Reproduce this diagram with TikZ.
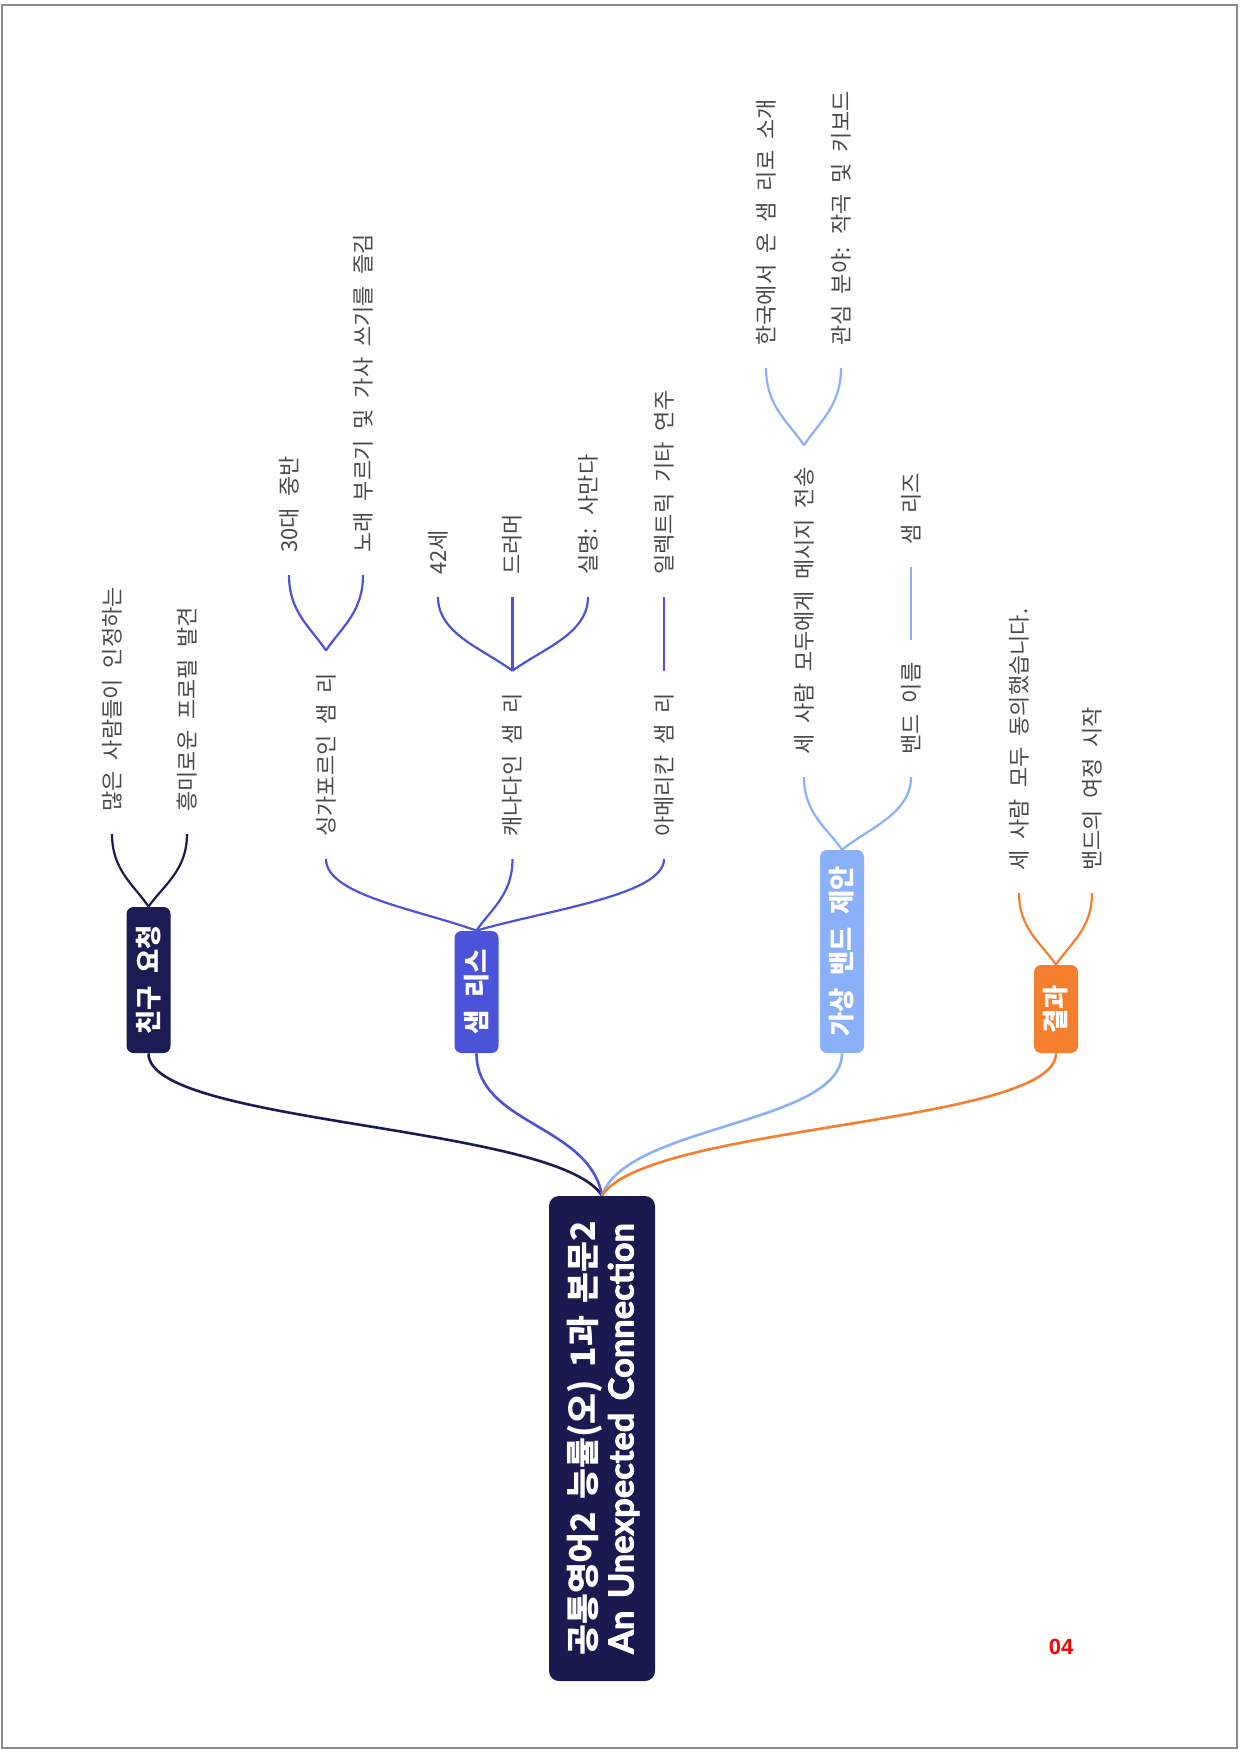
\documentclass[tikz,border=0pt]{standalone}
\usepackage{fontspec}
\usepackage{graphicx}
\setmainfont{Noto Sans CJK KR}
\newfontfamily\arialfont{Liberation Sans}
\newfontfamily\latobold[FakeBold=2.5]{Lato}
\usetikzlibrary{calc}
\definecolor{rootnavy}{HTML}{1A1A50}
\definecolor{friendnavy}{HTML}{1C1C55}
\definecolor{samblue}{HTML}{4B53D8}
\definecolor{bandblue}{HTML}{8AB1F8}
\definecolor{resorange}{HTML}{F57F2E}
\definecolor{leafgray}{HTML}{4A4A4A}
\definecolor{framegray}{HTML}{8C8C8C}
\newcommand\trunk[3]{\draw[#1] let \p1=(#2), \p2=(#3) in (\p1) .. controls +({0.1*(\x2-\x1)},{0.5*(\y2-\y1)}) and +(0pt,{-0.5*(\y2-\y1)}) .. (\p2);}
\newcommand\arm[3]{\draw[#1] let \p1=(#2), \p2=(#3) in (\p1) .. controls +({0.4*(\x2-\x1)},{0.3*(\y2-\y1)}) and +(0pt,{-0.5*(\y2-\y1)}) .. (\p2);}
\newcommand\vt[1]{\rotatebox{90}{#1}}
\newcommand\catfont{\fontsize{13.2}{15}\selectfont\bfseries\spaceskip 6.3pt\relax}
\newcommand\leaffont{\fontsize{11}{13}\selectfont\spaceskip 5.5pt\relax}
\newcommand\rootfont{\fontsize{16.8}{19}\selectfont\bfseries\spaceskip 6.2pt\relax}
\tikzset{
  rootbox/.style={fill=rootnavy, rounded corners=5pt, minimum width=53pt, minimum height=242.5pt, inner sep=0pt, text=white},
  catbox/.style={rounded corners=3.5pt, minimum width=22pt, inner sep=0pt, text=white, font=\catfont},
  leaf/.style={anchor=south, inner xsep=0pt, inner ysep=11pt, text=leafgray, font=\leaffont},
  trunkline/.style={line width=1.3pt},
  armline/.style={line width=1.1pt},
}
\begin{document}
\begin{tikzpicture}[x=0.5pt,y=-0.5pt]
\useasboundingbox (0,0) rectangle (1240,1754);
\fill[white] (0,0) rectangle (1240,1754);
\draw[framegray, line width=1.2pt] (2,5) rectangle (1237,1748);

% root
\node[rootbox] (root) at (602,1438.5) {\hspace{4pt}\vt{\rootfont\begin{tabular}{@{}c@{}}공통영어2 능률(오) 1과 본문2\\ {\latobold\fontsize{17.2}{19}\selectfont An Unexpected Connection}\end{tabular}}};

% categories
\node[catbox, fill=friendnavy, minimum height=73pt] (friend) at (148.5,980) {\vt{친구 요청}};
\node[catbox, fill=samblue, minimum height=61pt] (sam) at (476.5,992) {\vt{샘 리스}};
\node[catbox, fill=bandblue, minimum height=101.5pt] (band) at (842,951.5) {\vt{가상 밴드 제안}};
\node[catbox, fill=resorange, minimum height=44pt] (res) at (1056,1009) {\vt{결과}};

% leaves
\node[leaf] (f1) at (112,834) {\vt{많은 사람들이 인정하는}};
\node[leaf] (f2) at (187,834) {\vt{흥미로운 프로필 발견}};
\node[leaf] (s1) at (326,859) {\vt{싱가포르인 샘 리}};
\node[leaf] (s2) at (512.5,859) {\vt{캐나다인 샘 리}};
\node[leaf] (s3) at (664,859) {\vt{아메리칸 샘 리}};
\node[leaf] (s11) at (289,575) {\vt{30대 중반}};
\node[leaf] (s12) at (363,575) {\vt{노래 부르기 및 가사 쓰기를 즐김}};
\node[leaf] (s21) at (438,597) {\vt{42세}};
\node[leaf] (s22) at (512.5,597) {\vt{드러머}};
\node[leaf] (s23) at (588,597) {\vt{실명: 사만다}};
\node[leaf] (s31) at (664,597) {\vt{일렉트릭 기타 연주}};
\node[leaf] (v1) at (804,777) {\vt{세 사람 모두에게 메시지 전송}};
\node[leaf] (v2) at (911,777) {\vt{밴드 이름}};
\node[leaf] (v11) at (766,368) {\vt{한국에서 온 샘 리로 소개}};
\node[leaf] (v12) at (841,368) {\vt{관심 분야: 작곡 및 키보드}};
\node[leaf] (v21) at (911,567) {\vt{샘 리즈}};
\node[leaf] (r1) at (1019,893) {\vt{세 사람 모두 동의했습니다.}};
\node[leaf] (r2) at (1092,893) {\vt{밴드의 여정 시작}};

% trunks
\trunk{trunkline, friendnavy}{root.north}{friend.south}
\trunk{trunkline, samblue}{root.north}{sam.south}
\trunk{trunkline, bandblue}{root.north}{band.south}
\trunk{trunkline, resorange}{root.north}{res.south}

% arms
\arm{armline, friendnavy}{friend.north}{f1.south}
\arm{armline, friendnavy}{friend.north}{f2.south}
\arm{armline, samblue}{sam.north}{s1.south}
\arm{armline, samblue}{sam.north}{s2.south}
\arm{armline, samblue}{sam.north}{s3.south}
\arm{armline, samblue}{s1.north}{s11.south}
\arm{armline, samblue}{s1.north}{s12.south}
\arm{armline, samblue}{s2.north}{s21.south}
\arm{armline, samblue}{s2.north}{s22.south}
\arm{armline, samblue}{s2.north}{s23.south}
\arm{armline, samblue}{s3.north}{s31.south}
\arm{armline, bandblue}{band.north}{v1.south}
\arm{armline, bandblue}{band.north}{v2.south}
\arm{armline, bandblue}{v1.north}{v11.south}
\arm{armline, bandblue}{v1.north}{v12.south}
\arm{armline, bandblue}{v2.north}{v21.south}
\arm{armline, resorange}{res.north}{r1.south}
\arm{armline, resorange}{res.north}{r2.south}

% page number
\node[font=\arialfont\bfseries\fontsize{11}{13}\selectfont, text=red] (pg) at (1061,1647) {04};
\end{tikzpicture}
\end{document}
